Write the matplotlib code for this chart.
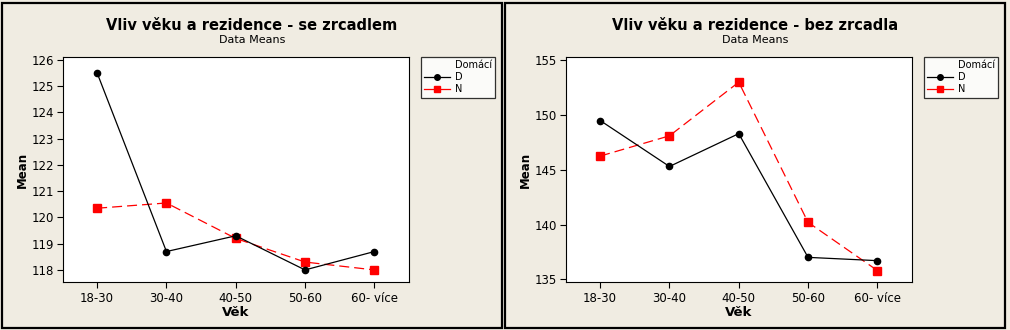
import matplotlib.pyplot as plt
from matplotlib.lines import Line2D
from matplotlib.patches import Rectangle

# Data
vek = ["18-30", "30-40", "40-50", "50-60", "60- více"]
se_zrcadlem_d = [125.5, 118.7, 119.3, 118.0, 118.7]
se_zrcadlem_n = [120.35, 120.55, 119.2, 118.3, 118.0]
bez_zrcadla_d = [149.5, 145.3, 148.3, 137.0, 136.7]
bez_zrcadla_n = [146.25, 148.1, 153.0, 140.2, 135.8]

bg = "#f0ece2"
W, H = 1010, 330

fig = plt.figure(figsize=(10.1, 3.3), dpi=100, facecolor=bg)
plt.rcParams['font.family'] = ['DejaVu Sans']


def panel(x0, title, d, n, ylim, yticks):
    # axes box in pixels: left, right, top, bottom
    left, right, top, bottom = x0 + 62.5, x0 + 409, 57, 282
    ax = fig.add_axes([left / W, 1 - bottom / H, (right - left) / W, (bottom - top) / H])
    ax.set_facecolor("white")
    x = range(len(vek))
    ax.plot(x, d, color="black", lw=0.9, marker="o", ms=4.5, label="D", zorder=3)
    ax.plot(x, n, color="red", lw=0.9, ls=(0, (8, 4)), marker="s", ms=5.5, label="N", zorder=2)
    ax.set_xlim(-0.5, 4.5)
    ax.set_ylim(*ylim)
    ax.set_xticks(list(x))
    ax.set_xticklabels(vek, fontsize=8.5)
    ax.set_yticks(yticks)
    ax.tick_params(axis="y", labelsize=8.5, length=4, width=0.8, direction="out", pad=2)
    ax.tick_params(axis="x", length=4, width=0.8, direction="out", pad=3)
    for s in ax.spines.values():
        s.set_linewidth(0.8)
    ax.set_xlabel("Věk", fontsize=9.5, fontweight="bold", labelpad=1)
    ax.set_ylabel("Mean", fontsize=8.5, fontweight="bold", labelpad=2)

    cx = (x0 + 252) / W
    fig.text(cx, 1 - 25 / H, title, ha="center", va="center", fontsize=10.5, fontweight="bold")
    fig.text(cx, 1 - 40 / H, "Data Means", ha="center", va="center", fontsize=8)

    handles = [Line2D([], [], ls="none"),
               Line2D([], [], color="black", lw=0.9, marker="o", ms=4),
               Line2D([], [], color="red", lw=0.9, marker="s", ms=5)]
    leg = fig.legend(handles, ["Domácí", "D", "N"], loc="upper left",
                     bbox_to_anchor=((x0 + 421) / W, 1 - 57 / H), fontsize=7,
                     frameon=True, fancybox=False, edgecolor="black", handlelength=2.6,
                     handletextpad=0.5, borderpad=0.35, labelspacing=0.2, borderaxespad=0)
    leg.get_frame().set_linewidth(0.9)
    leg.get_frame().set_facecolor("white")

    # panel frame
    fig.patches.append(Rectangle(((x0 + 1.5) / W, 2 / H), 500 / W, 325 / H, transform=fig.transFigure,
                                 fill=False, edgecolor="black", linewidth=1.6))
    return ax


panel(0, "Vliv věku a rezidence - se zrcadlem", se_zrcadlem_d, se_zrcadlem_n,
      (117.54, 126.11), range(118, 127))
panel(503, "Vliv věku a rezidence - bez zrcadla", bez_zrcadla_d, bez_zrcadla_n,
      (134.75, 155.3), range(135, 156, 5))

fig.savefig("out.png", dpi=100, facecolor=bg)
